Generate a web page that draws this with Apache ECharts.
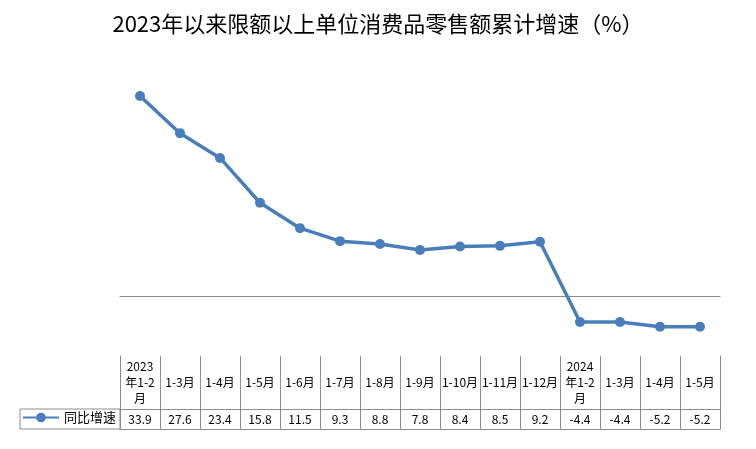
<!DOCTYPE html>
<html><head><meta charset="utf-8">
<script src="https://cdn.jsdelivr.net/npm/echarts@6/dist/echarts.min.js"></script>
<style>html,body{margin:0;padding:0;background:#fff}#c{width:756px;height:449px}</style>
</head><body><div id="c"></div>
<script>
const categories = ['2023\n年1-2\n月','1-3月','1-4月','1-5月','1-6月','1-7月','1-8月','1-9月','1-10月','1-11月','1-12月','2024\n年1-2\n月','1-3月','1-4月','1-5月'];
const growth = [33.9, 27.6, 23.4, 15.8, 11.5, 9.3, 8.8, 7.8, 8.4, 8.5, 9.2, -4.4, -4.4, -5.2, -5.2];
const seriesName = '同比增速';
const titleText = '2023年以来限额以上单位消费品零售额累计增速（%）';

const FONT = '"Noto Sans CJK SC", "Noto Sans", sans-serif';
const BORDER = '#8c8c8c';
const BLUE = '#4A7EBB';
const chart = echarts.init(document.getElementById('c'));

const hiddenY = (gi, pos, showLine) => ({
  type: 'value', gridIndex: gi, position: pos, min: 0, max: 1,
  axisLine: {show: showLine, lineStyle: {color: BORDER, width: 1}},
  axisTick: {show: false}, axisLabel: {show: false}, splitLine: {show: false}
});

chart.setOption({
  animation: false,
  title: {text: titleText, left: 'center', top: 8,
    textStyle: {fontFamily: FONT, fontSize: 22, fontWeight: 'normal', color: '#000'}},
  legend: {data: [seriesName], left: 22, top: 411, itemWidth: 36, itemHeight: 12, padding: 0,
    textStyle: {fontFamily: FONT, fontSize: 13, color: '#000'}},
  graphic: [{type: 'rect', shape: {x: 20, y: 409, width: 100, height: 20},
    style: {fill: 'none', stroke: BORDER, lineWidth: 1}, z: 1}],
  grid: [
    {left: 120, right: 36, top: 60, height: 295},
    {left: 120, right: 36, top: 356, height: 53},
    {left: 120, right: 36, top: 409, height: 20}
  ],
  xAxis: [
    {type: 'category', gridIndex: 0, data: categories, boundaryGap: true,
      axisLine: {show: true, onZero: true, lineStyle: {color: BORDER, width: 1}},
      axisTick: {show: false}, axisLabel: {show: false}, splitLine: {show: false}},
    {type: 'category', gridIndex: 1, data: categories, position: 'top', boundaryGap: true,
      axisLine: {show: true, lineStyle: {color: BORDER, width: 1}},
      axisTick: {show: false},
      splitLine: {show: true, lineStyle: {color: BORDER, width: 1}},
      axisLabel: {show: true, inside: true, interval: 0, margin: 26, verticalAlign: 'middle',
        fontFamily: FONT, fontSize: 12, lineHeight: 16, color: '#000', align: 'center'}},
    {type: 'category', gridIndex: 2, data: categories, position: 'top', boundaryGap: true,
      axisLine: {show: true, lineStyle: {color: BORDER, width: 1}},
      axisTick: {show: false},
      splitLine: {show: true, lineStyle: {color: BORDER, width: 1}},
      axisLabel: {show: true, inside: true, interval: 0, margin: 10, verticalAlign: 'middle',
        fontFamily: FONT, fontSize: 12, color: '#000',
        formatter: (v, i) => growth[i].toFixed(1)}},
    {type: 'category', gridIndex: 2, data: categories, position: 'bottom', boundaryGap: true,
      axisLine: {show: true, lineStyle: {color: BORDER, width: 1}},
      axisTick: {show: false}, axisLabel: {show: false}, splitLine: {show: false}}
  ],
  yAxis: [
    {type: 'value', gridIndex: 0, min: -10, max: 40, interval: 10,
      axisLine: {show: false}, axisTick: {show: false}, axisLabel: {show: false}, splitLine: {show: false}},
    hiddenY(1, 'left', true), hiddenY(1, 'right', true),
    hiddenY(2, 'left', true), hiddenY(2, 'right', true)
  ],
  series: [{
    name: seriesName, type: 'line', xAxisIndex: 0, yAxisIndex: 0, data: growth,
    symbol: 'circle', symbolSize: 10,
    lineStyle: {color: BLUE, width: 3.5}, itemStyle: {color: BLUE}
  }]
});
</script></body></html>
